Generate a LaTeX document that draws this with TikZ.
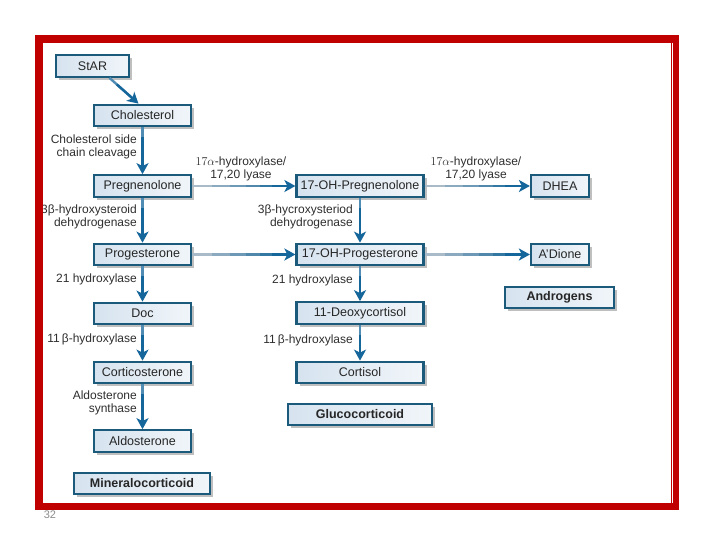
\documentclass[tikz,border=0pt]{standalone}
\usepackage{fontspec}
\setmainfont{Liberation Sans}
\usetikzlibrary{arrows.meta,shadows,calc}
\definecolor{frame}{HTML}{C00000}
\definecolor{boxline}{HTML}{1B5A7A}
\definecolor{boxfill}{HTML}{D6E3EF}
\definecolor{arrowblue}{HTML}{15669A}
\definecolor{arrowpale}{HTML}{A9BBC8}
\definecolor{labeltext}{HTML}{2E2E2E}

\begin{document}
\begin{tikzpicture}[x=1pt,y=-1pt,
   stepbox/.style={draw=boxline, line width=2.2pt, left color=boxfill,
      right color=boxfill!35!white, text=black!85,
      font=\fontsize{12.5}{13}\selectfont, minimum height=21.5pt, inner sep=0pt,
      drop shadow={shadow xshift=3pt, shadow yshift=-3pt, fill=black!25, opacity=1}},
   groupbox/.style={stepbox, font=\fontsize{12.5}{13}\selectfont\bfseries},
   enzyme/.style={font=\fontsize{12}{13}\selectfont, text=labeltext,
      align=right, anchor=east, inner sep=0pt},
   across/.style={font=\fontsize{12}{13}\selectfont, text=labeltext,
      align=center, inner sep=0pt},
   tip/.style={-{Stealth[length=11pt,width=12pt,inset=3pt]}},
   down/.style={draw=arrowblue!75, line width=2.4pt, shorten >=5pt,
      postaction={draw=arrowblue, shorten <=10pt, shorten >=0pt, tip}},
   over/.style={draw=arrowpale, line width=2.4pt, shorten >=5pt,
      postaction={draw=arrowblue!20!arrowpale, shorten <=20pt},
      postaction={draw=arrowblue!40!arrowpale, shorten <=38pt},
      postaction={draw=arrowblue!60!arrowpale, shorten <=54pt},
      postaction={draw=arrowblue!80!arrowpale, shorten <=68pt},
      postaction={draw=arrowblue, shorten <=80pt, shorten >=0pt, tip}}]
\useasboundingbox (0,0) rectangle (720,540);

% mineralocorticoid column
\node [stepbox, minimum width=73pt] (star) at (92.5,66) {StAR};
\node [stepbox, minimum width=97pt] (chol) at (142.5,115.5) {Cholesterol};
\node [stepbox, minimum width=97pt] (preg) at (142.5,186) {Pregnenolone};
\node [stepbox, minimum width=97pt] (prog) at (142.5,254.5) {Progesterone};
\node [stepbox, minimum width=97pt] (doc) at (142.5,313.5) {Doc};
\node [stepbox, minimum width=97pt] (cort) at (142.5,372.5) {Corticosterone};
\node [stepbox, minimum width=97pt] (aldo) at (142.5,441) {Aldosterone};
\node [groupbox, minimum width=136pt] (mineral) at (142,483.5) {Mineralocorticoid};

% glucocorticoid column
\node [stepbox, minimum width=127pt] (ohpreg) at (360,186) {17-OH-Pregnenolone};
\node [stepbox, minimum width=127pt] (ohprog) at (360,254.5) {17-OH-Progesterone};
\node [stepbox, minimum width=127pt] (deoxy) at (360,313) {11-Deoxycortisol};
\node [stepbox, minimum width=127pt] (cortisol) at (360,372.5) {Cortisol};
\node [groupbox, minimum width=144pt] (gluco) at (360,414.5) {Glucocorticoid};

% androgens
\node [stepbox, minimum width=58pt] (dhea) at (560,186) {DHEA};
\node [stepbox, minimum width=58pt] (adione) at (560,254.5) {A'Dione};
\node [groupbox, minimum width=109pt] (andro) at (559.5,297.5) {Androgens};

% enzymes
\node [enzyme] (scc) at (137,147) {Cholesterol side\\chain cleavage};
\node [enzyme] (hsd) at (137,217) {3β-hydroxysteroid\\dehydrogenase};
\node [enzyme] (cyp21) at (137,279) {21 hydroxylase};
\node [enzyme] (cyp11) at (137,339) {11\,β-hydroxylase};
\node [enzyme] (synth) at (137,403) {Aldosterone\\synthase};
\node [enzyme] (hsdb) at (353,217) {3β-hycroxysteriod\\dehydrogenase};
\node [enzyme] (cyp21b) at (353,280) {21 hydroxylase};
\node [enzyme] (cyp11b) at (353,340) {11\,β-hydroxylase};
\node [across] (lyase) at (241,169) {$17\alpha$-hydroxylase/\\17,20 lyase};
\node [across] (lyaseb) at (476,169) {$17\alpha$-hydroxylase/\\17,20 lyase};

\draw [down] ($(star.south)!0.45!(star.south east)$) -- ([xshift=-4pt]chol.north);
\draw [down] (chol) -- (preg);
\draw [down] (preg) -- (prog);
\draw [down] (prog) -- (doc);
\draw [down] (doc) -- (cort);
\draw [down] (cort) -- (aldo);
\draw [down] (ohpreg) -- (ohprog);
\draw [down] (ohprog) -- (deoxy);
\draw [down] (deoxy) -- (cortisol);
\draw [over] (preg) -- (ohpreg);
\draw [over] (ohpreg) -- (dhea);
\draw [over] (prog) -- (ohprog);
\draw [over] (ohprog) -- (adione);

% slide frame
\draw [frame, line width=7.5pt] (38.75,39) rectangle (675,506.5);
\draw [white, line width=0.7pt] (672.5,43) -- (672.5,502.5);
\node [text=black!45, font=\fontsize{11}{11}\selectfont] (page) at (50,515) {32};
\end{tikzpicture}
\end{document}
